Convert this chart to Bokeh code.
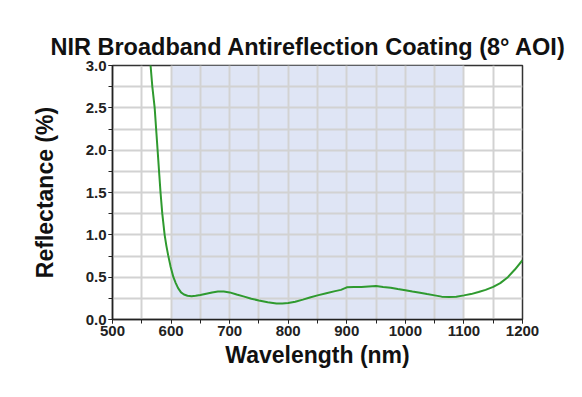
from bokeh.plotting import figure
from bokeh.models import BoxAnnotation, FixedTicker, Range1d, CustomJSTickFormatter
from bokeh.embed import file_html
from bokeh.resources import INLINE

wavelength = [560, 565, 568, 572, 575, 577, 580, 582, 585, 589, 592, 595, 599, 604, 608, 612,
              617, 622, 628, 635, 642, 650, 660, 670, 680, 690, 700, 712, 725, 737, 750, 765,
              780, 790, 800, 812, 825, 837, 850, 865, 880, 890, 900, 912, 925, 937, 950, 962,
              975, 987, 1000, 1012, 1025, 1037, 1050, 1062, 1075, 1087, 1100, 1112, 1125,
              1137, 1150, 1162, 1175, 1187, 1200]
reflectance = [3.4, 3.0, 2.75, 2.5, 2.2, 2.0, 1.7, 1.5, 1.25, 1.0, 0.87, 0.76, 0.63, 0.5, 0.43, 0.37,
               0.32, 0.295, 0.28, 0.275, 0.28, 0.29, 0.305, 0.32, 0.33, 0.33, 0.32, 0.295, 0.27, 0.245,
               0.225, 0.205, 0.19, 0.19, 0.195, 0.21, 0.235, 0.26, 0.285, 0.31, 0.335, 0.35, 0.38,
               0.385, 0.385, 0.39, 0.395, 0.385, 0.375, 0.36, 0.345, 0.33, 0.315, 0.30, 0.285, 0.27,
               0.265, 0.27, 0.285, 0.30, 0.325, 0.35, 0.385, 0.43, 0.50, 0.59, 0.70]
x_ticks = [500, 600, 700, 800, 900, 1000, 1100, 1200]
x_minor = list(range(500, 1201, 50))
y_ticks = [0.0, 0.5, 1.0, 1.5, 2.0, 2.5, 3.0]
y_minor = [0.25 * i for i in range(13)]
band = (600, 1100)

FONT = "Liberation Sans"

p = figure(width=566, height=381, output_backend="svg", toolbar_location=None,
           x_range=Range1d(500, 1200), y_range=Range1d(0, 3.0),
           title="NIR Broadband Antireflection Coating (8° AOI)",
           min_border_left=112, min_border_right=44, min_border_bottom=62, min_border_top=65)

p.title.text_font = FONT
p.title.text_font_style = "bold"
p.title.text_font_size = "23.5px"
p.title.align = "left"
p.title.offset = -62
p.title.standoff = 11
p.title.text_color = "#111111"

p.add_layout(BoxAnnotation(left=band[0], right=band[1], fill_color="#dfe5f5", fill_alpha=1.0,
                           line_color=None, level="image"))

p.xgrid.ticker = FixedTicker(ticks=x_minor)
p.ygrid.ticker = FixedTicker(ticks=y_minor)
for g in (p.xgrid, p.ygrid):
    g.grid_line_color = "#d2d2d2"
    g.grid_line_width = 2
    g.level = "underlay"

p.line(wavelength, reflectance, line_color="#2f9a2f", line_width=2)

p.xaxis.ticker = FixedTicker(ticks=x_ticks, minor_ticks=x_minor)
p.yaxis.ticker = FixedTicker(ticks=y_ticks, minor_ticks=y_minor)
p.yaxis.formatter = CustomJSTickFormatter(code="return tick.toFixed(1);")

p.xaxis.axis_label = "Wavelength (nm)"
p.yaxis.axis_label = "Reflectance (%)"
for ax in (p.xaxis, p.yaxis):
    ax.axis_label_text_font = FONT
    ax.axis_label_text_font_style = "bold"
    ax.axis_label_text_font_size = "23px"
    ax.axis_label_text_color = "#111111"
    ax.major_label_text_font = FONT
    ax.major_label_text_font_style = "bold"
    ax.major_label_text_font_size = "15px"
    ax.major_label_text_color = "#222222"
    ax.axis_line_color = "#222222"
    ax.axis_line_width = 1.5
    ax.major_tick_line_color = "#222222"
    ax.minor_tick_line_color = "#222222"
    ax.major_tick_in = 0
    ax.major_tick_out = 4
    ax.minor_tick_in = 0
    ax.minor_tick_out = 4
    ax.major_label_standoff = 2
p.xaxis.axis_label_standoff = 3
p.yaxis.axis_label_standoff = 25

p.outline_line_color = "#333333"
p.outline_line_width = 1.5
p.background_fill_color = "white"

open("out.html", "w").write(file_html(p, INLINE))
